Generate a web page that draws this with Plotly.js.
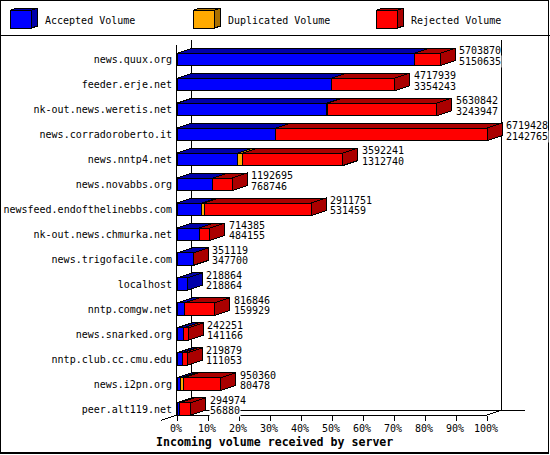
<!DOCTYPE html>
<html><head><meta charset="utf-8">
<script src="https://cdn.plot.ly/plotly-3.0.1.min.js"></script>
<style>html,body{margin:0;padding:0;background:#fff}#c{width:550px;height:455px}
.shapelayer path,.scatterlayer path,.barlayer path{shape-rendering:crispEdges}</style>
</head><body><div id="c"></div>
<script>
const servers=["news.quux.org","feeder.erje.net","nk-out.news.weretis.net","news.corradoroberto.it","news.nntp4.net","news.novabbs.org","newsfeed.endofthelinebbs.com","nk-out.news.chmurka.net","news.trigofacile.com","localhost","nntp.comgw.net","news.snarked.org","nntp.club.cc.cmu.edu","news.i2pn.org","peer.alt119.net"];
const offered=[5703870,4717939,5630842,6719428,3592241,1192695,2911751,714385,351119,218864,816846,242251,219879,950360,294974];
const accepted=[5150635,3354243,3243947,2142765,1312740,768746,531459,484155,347700,218864,159929,141166,111053,80478,56880];
const duplicated=[0,0,20000,0,115000,0,58000,0,0,0,0,0,0,55000,0];
const rejected=offered.map((o,i)=>o-accepted[i]-duplicated[i]);
const tickLabels=["0%","10%","20%","30%","40%","50%","60%","70%","80%","90%","100%"];
const legendNames=["Accepted Volume","Duplicated Volume","Rejected Volume"];
const titleText="Incoming volume received by server";

const FONT="'DejaVu Sans Mono', monospace";
const frontCol={a:"#0000ff",d:"#ffaa00",r:"#ff0000"};
const darkCol={a:"#0000aa",d:"#aa7000",r:"#aa0000"};
const max=Math.max(...offered);
const L=177,R=487,T=45,B=415.5,W=550,H=455;
const pxX=(R-L)/max, DX=15/pxX, DY=5/25, HALF=0.25;
const idx=servers.map((_,i)=>i);
const tickVals=tickLabels.map((_,i)=>i/10*max);

function bar(x,base,c,name){return{type:"bar",orientation:"h",y:idx,x:x,base:base,width:HALF*2,name:name,
  marker:{color:c,line:{color:"#000",width:1}},hoverinfo:"skip"};}
const base0=idx.map(()=>0),baseD=accepted,baseR=accepted.map((a,i)=>a+duplicated[i]);

function tops(start,len,col){const xs=[],ys=[];
  idx.forEach(i=>{if(len[i]<=0)return;const a=start[i],b=a+len[i],y=i-HALF;
    xs.push(a,a+DX,b+DX,b,a,null);ys.push(y,y-DY,y-DY,y,y,null);});
  return{type:"scatter",mode:"lines",x:xs,y:ys,fill:"toself",fillcolor:col,line:{color:"#000",width:1},cliponaxis:false,hoverinfo:"skip",showlegend:false};}
function sides(col,test){const xs=[],ys=[];
  idx.forEach(i=>{if(!test(i))return;const b=offered[i],y0=i-HALF,y1=i+HALF;
    xs.push(b,b+DX,b+DX,b,b,null);ys.push(y0,y0-DY,y1-DY,y1,y0,null);});
  return{type:"scatter",mode:"lines",x:xs,y:ys,fill:"toself",fillcolor:col,line:{color:"#000",width:1},cliponaxis:false,hoverinfo:"skip",showlegend:false};}

const data=[
  bar(accepted,base0,frontCol.a,legendNames[0]),
  bar(duplicated,baseD,frontCol.d,legendNames[1]),
  bar(rejected,baseR,frontCol.r,legendNames[2]),
  tops(base0,accepted,darkCol.a),
  tops(baseD,duplicated,darkCol.d),
  tops(baseR,rejected,darkCol.r),
  sides(darkCol.a,i=>rejected[i]<=0),
  sides(darkCol.r,i=>rejected[i]>0)
];

// page-pixel helpers: paper coordinates relative to the plot area
const PW=W-L,PH=B-T;
const xp=v=>(v-L)/PW, yp=v=>(B-v)/PH;
const ln=(x0,y0,x1,y1,w,layer)=>({type:"line",xref:"paper",yref:"paper",x0:xp(x0),y0:yp(y0),x1:xp(x1),y1:yp(y1),line:{color:"#000",width:w||1},layer:layer||"below"});
const poly=(pts,col)=>({type:"path",xref:"paper",yref:"paper",path:"M"+pts.map(p=>xp(p[0])+","+yp(p[1])).join("L")+"Z",fillcolor:col,line:{color:"#000",width:1},layer:"above"});

const shapes=[
  ln(0,35,W,35,1),
  {type:"rect",xref:"paper",yref:"paper",x0:xp(0.5),y0:yp(0.5),x1:xp(548.5),y1:yp(453.5),line:{color:"#000",width:1.5},fillcolor:"rgba(0,0,0,0)",layer:"below"},
  ln(191.5,40,191.5,410.5),
  ln(501.5,40,501.5,410.5),
  ln(191.5,410.5,525,410.5),
  ln(161,421,191.5,410.5),
  ln(L,B,R,B,1),
  ln(R,B,501.5,410.5)
];
const swX=[10.5,193.5,376.5];
const annotations=[];
legendNames.forEach((n,i)=>{
  const x=swX[i],c=["a","d","r"][i];
  shapes.push(poly([[x,10],[x+21,10],[x+21,28],[x,28]],frontCol[c]));
  shapes.push(poly([[x,10],[x+6,8],[x+27,8],[x+21,10]],darkCol[c]));
  shapes.push(poly([[x+21,10],[x+27,8],[x+27,26],[x+21,28]],darkCol[c]));
  annotations.push({xref:"paper",yref:"paper",x:xp(x+33),y:yp(20),xanchor:"left",yanchor:"middle",showarrow:false,text:n,font:{family:FONT,size:10,color:"#000"},borderpad:0});
});
annotations.push({xref:"paper",yref:"paper",x:xp(274),y:yp(442.5),xanchor:"center",yanchor:"middle",showarrow:false,text:"<b>"+titleText+"</b>",font:{family:FONT,size:11.6,color:"#000"},borderpad:0});
idx.forEach(i=>{
  [[offered,8.7],[accepted,-1.7]].forEach(([arr,dy],k)=>annotations.push({
    x:offered[i],y:i,xref:"x",yref:"y",xanchor:"left",yanchor:"middle",xshift:18,yshift:dy,showarrow:false,
    text:String(arr[i]),font:{family:FONT,size:10,color:"#000"},borderpad:0,bgcolor:k?"#fff":"rgba(0,0,0,0)"}));
});

const layout={width:W,height:H,margin:{l:L,r:0,t:T,b:H-B,pad:0},paper_bgcolor:"#fff",plot_bgcolor:"rgba(0,0,0,0)",
  barmode:"overlay",showlegend:false,font:{family:FONT,size:10,color:"#000"},
  xaxis:{range:[0,(W-L)/pxX],tickvals:tickVals,ticktext:tickLabels,ticks:"outside",ticklen:5,tickwidth:1,tickcolor:"#000",showline:false,showgrid:false,zeroline:false,tickangle:0,ticklabelshift:-1,ticklabelstandoff:-1,tickfont:{family:FONT,size:10,color:"#000"}},
  yaxis:{range:[(B-59.5)/25,(T-59.5)/25],tickvals:idx,ticktext:servers,ticks:"",ticklabelstandoff:2,showline:true,linecolor:"#000",linewidth:1,showgrid:false,zeroline:false,tickfont:{family:FONT,size:10,color:"#000"}},
  shapes,annotations};
Plotly.newPlot("c",data,layout,{staticPlot:true,displayModeBar:false});
</script></body></html>
